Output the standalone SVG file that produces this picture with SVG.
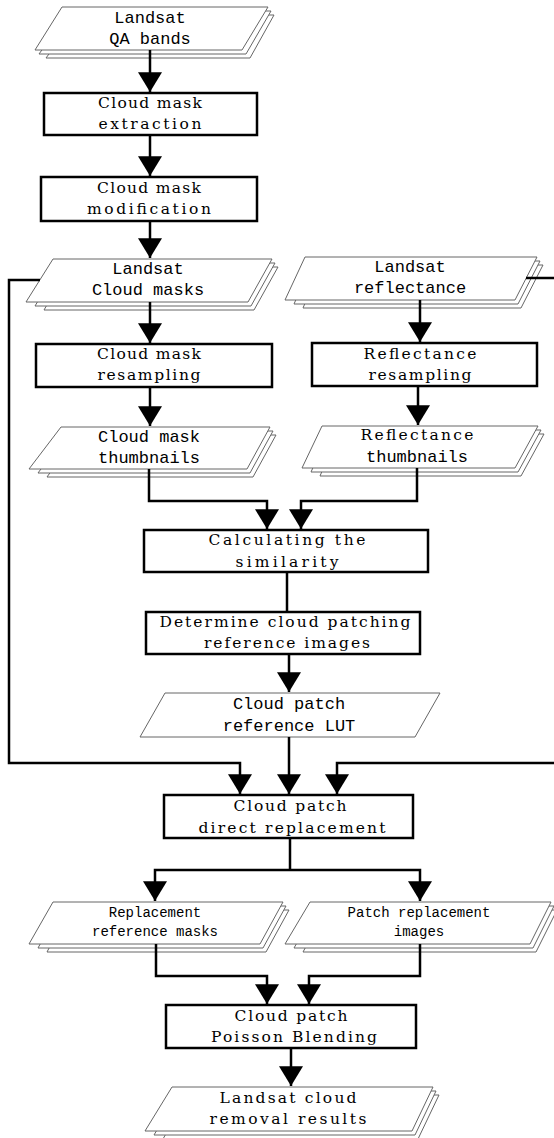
<svg xmlns="http://www.w3.org/2000/svg" width="554" height="1138" viewBox="0 0 554 1138">
<style>
.bg{fill:#fff}
.pg{fill:#fff;stroke:#666;stroke-width:1}
.bx{fill:#fff;stroke:#000;stroke-width:2.5}
.cn{fill:none;stroke:#000;stroke-width:2.5}
.sm{font-family:"Liberation Mono",monospace;font-size:17px;fill:#000;text-anchor:middle}
.ss{font-family:"Liberation Mono",monospace;font-size:14px;fill:#000;text-anchor:middle}
.sf{font-family:"DejaVu Serif",serif;font-size:15.5px;fill:#000;text-anchor:middle}
</style>
<defs>
<marker id="ah" markerUnits="userSpaceOnUse" markerWidth="20" markerHeight="24" viewBox="0 0 19 23" refX="19" refY="11.5" orient="auto">
<path d="M0,0 L19,11.5 L0,23 Z" fill="#000"/>
</marker>
</defs>
<rect class="bg" x="0" y="0" width="554" height="1138"/>

<g id="n-qa">
<polygon class="pg" points="78,15 274,15 250,58 46,58"/>
<polygon class="pg" points="70,11 271,11 246,54 39,54"/>
<polygon class="pg" points="62,7 268,7 242,50 35,50"/>
<text class="sm" x="150" y="23">Landsat</text>
<text class="sm" x="150" y="44">QA bands</text>
</g>

<g id="n-extract">
<rect class="bx" x="44" y="93" width="213" height="42"/>
<text class="sf" x="150" y="108" textLength="104" lengthAdjust="spacing">Cloud mask</text>
<text class="sf" x="150" y="129" textLength="103" lengthAdjust="spacing">extraction</text>
</g>

<g id="n-modify">
<rect class="bx" x="41" y="177" width="216" height="44"/>
<text class="sf" x="149" y="193" textLength="104" lengthAdjust="spacing">Cloud mask</text>
<text class="sf" x="149" y="214" textLength="124" lengthAdjust="spacing">modification</text>
</g>

<g id="n-masks">
<polygon class="pg" points="69,267 278,267 254,310 44,310"/>
<polygon class="pg" points="61,263 275,263 251,306 35,306"/>
<polygon class="pg" points="53,259 272,259 248,302 26,302"/>
<text class="sm" x="148" y="274">Landsat</text>
<text class="sm" x="148" y="295">Cloud masks</text>
</g>

<g id="n-refl">
<polygon class="pg" points="321,265 543,265 521,308 303,308"/>
<polygon class="pg" points="313,261 540,261 518,304 294,304"/>
<polygon class="pg" points="305,257 537,257 515,300 285,300"/>
<text class="sm" x="410" y="272">Landsat</text>
<text class="sm" x="410" y="293">reflectance</text>
</g>

<g id="n-mask-resamp">
<rect class="bx" x="36" y="344" width="236" height="43"/>
<text class="sf" x="149" y="359" textLength="104" lengthAdjust="spacing">Cloud mask</text>
<text class="sf" x="149" y="380" textLength="103" lengthAdjust="spacing">resampling</text>
</g>

<g id="n-refl-resamp">
<rect class="bx" x="312" y="343" width="225" height="43"/>
<text class="sf" x="420" y="359" textLength="113" lengthAdjust="spacing">Reflectance</text>
<text class="sf" x="420" y="380" textLength="103" lengthAdjust="spacing">resampling</text>
</g>

<g id="n-mask-thumb">
<polygon class="pg" points="77,435 276,435 253,477 47,477"/>
<polygon class="pg" points="69,431 273,431 250,473 38,473"/>
<polygon class="pg" points="61,427 270,427 247,469 29,469"/>
<text class="sm" x="149" y="442">Cloud mask</text>
<text class="sm" x="149" y="463">thumbnails</text>
</g>

<g id="n-refl-thumb">
<polygon class="pg" points="338,434 544,434 521,476 320,476"/>
<polygon class="pg" points="330,430 541,430 518,472 311,472"/>
<polygon class="pg" points="322,426 538,426 515,468 302,468"/>
<text class="sf" x="417" y="440" textLength="113" lengthAdjust="spacing">Reflectance</text>
<text class="sm" x="417" y="462">thumbnails</text>
</g>

<g id="n-sim">
<rect class="bx" x="144" y="530" width="284" height="42"/>
<text class="sf" x="287" y="545" textLength="157" lengthAdjust="spacing">Calculating the</text>
<text class="sf" x="287" y="567" textLength="103" lengthAdjust="spacing">similarity</text>
</g>

<g id="n-determine">
<rect class="bx" x="146" y="612" width="274" height="42"/>
<text class="sf" x="285" y="627" textLength="251" lengthAdjust="spacing">Determine cloud patching</text>
<text class="sf" x="287" y="648" textLength="166" lengthAdjust="spacing">reference images</text>
</g>

<g id="n-lut">
<polygon class="pg" points="165,693 440,693 415,737 140,737"/>
<text class="sm" x="289" y="709">Cloud patch</text>
<text class="sm" x="289" y="731">reference LUT</text>
</g>

<g id="n-direct">
<rect class="bx" x="164" y="795" width="249" height="43"/>
<text class="sf" x="290" y="811" textLength="113" lengthAdjust="spacing">Cloud patch</text>
<text class="sf" x="292" y="833" textLength="187" lengthAdjust="spacing">direct replacement</text>
</g>

<g id="n-repmask">
<polygon class="pg" points="69,910 289,910 266,952 47,952"/>
<polygon class="pg" points="61,906 286,906 263,948 38,948"/>
<polygon class="pg" points="53,902 283,902 260,944 29,944"/>
<text class="ss" x="155" y="917">Replacement</text>
<text class="ss" x="155" y="936">reference masks</text>
</g>

<g id="n-repimg">
<polygon class="pg" points="326,910 557,910 536,952 303,952"/>
<polygon class="pg" points="318,906 554,906 533,948 294,948"/>
<polygon class="pg" points="310,902 551,902 530,944 285,944"/>
<text class="ss" x="419" y="917">Patch replacement</text>
<text class="ss" x="419" y="936">images</text>
</g>

<g id="n-poisson">
<rect class="bx" x="166" y="1005" width="250" height="43"/>
<text class="sf" x="291" y="1021" textLength="113" lengthAdjust="spacing">Cloud patch</text>
<text class="sf" x="294" y="1042" textLength="166" lengthAdjust="spacing">Poisson Blending</text>
</g>

<g id="n-result">
<polygon class="pg" points="188,1095 439,1095 418,1139 163,1139"/>
<polygon class="pg" points="180,1091 436,1091 415,1135 154,1135"/>
<polygon class="pg" points="172,1087 433,1087 412,1131 145,1131"/>
<text class="sf" x="288" y="1103" textLength="137" lengthAdjust="spacing">Landsat cloud</text>
<text class="sf" x="288" y="1124" textLength="157" lengthAdjust="spacing">removal results</text>
</g>

<g id="connectors">
<path class="cn" d="M150,50 V92" marker-end="url(#ah)"/>
<path class="cn" d="M150,135 V176" marker-end="url(#ah)"/>
<path class="cn" d="M150,221 V258" marker-end="url(#ah)"/>
<path class="cn" d="M150,302 V343" marker-end="url(#ah)"/>
<path class="cn" d="M150,387 V426" marker-end="url(#ah)"/>
<path class="cn" d="M420,300 V342" marker-end="url(#ah)"/>
<path class="cn" d="M418,386 V425" marker-end="url(#ah)"/>
<path class="cn" d="M149,469 V501 H267 V529" marker-end="url(#ah)"/>
<path class="cn" d="M417,468 V501 H301 V529" marker-end="url(#ah)"/>
<path class="cn" d="M287,572 V612"/>
<path class="cn" d="M289,654 V692" marker-end="url(#ah)"/>
<path class="cn" d="M40,280 H9 V763 H240 V794" marker-end="url(#ah)"/>
<path class="cn" d="M289,737 V794" marker-end="url(#ah)"/>
<path class="cn" d="M526,278 H562 V763 H337 V794" marker-end="url(#ah)"/>
<path class="cn" d="M290,838 V870"/>
<path class="cn" d="M290,870 H155 V901" marker-end="url(#ah)"/>
<path class="cn" d="M290,870 H420 V901" marker-end="url(#ah)"/>
<path class="cn" d="M156,944 V976 H267 V1004" marker-end="url(#ah)"/>
<path class="cn" d="M420,944 V976 H309 V1004" marker-end="url(#ah)"/>
<path class="cn" d="M291,1048 V1086" marker-end="url(#ah)"/>
</g>
</svg>
